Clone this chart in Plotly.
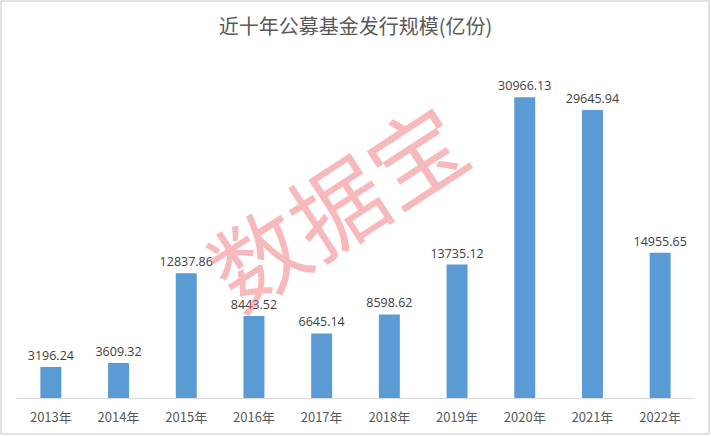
import plotly.graph_objects as go

years = ["2013年", "2014年", "2015年", "2016年", "2017年", "2018年", "2019年", "2020年", "2021年", "2022年"]
values = [3196.24, 3609.32, 12837.86, 8443.52, 6645.14, 8598.62, 13735.12, 30966.13, 29645.94, 14955.65]
labels = [f"{v:.2f}" for v in values]

W, H = 711, 436
ML, MR, MT, MB = 17, 17, 58, 38

fig = go.Figure()
fig.add_trace(go.Bar(
    x=years, y=values, text=labels, textposition="outside", constraintext="none",
    textfont=dict(family="Open Sans, Noto Sans CJK SC", size=12.5, color="#404040"),
    marker=dict(color="#5B9BD5", line=dict(width=0)),
    width=0.31, cliponaxis=False,
))

def px_x(p):
    return (p - ML) / (W - ML - MR)

def px_y(p):
    return 1 - (p - MT) / (H - MT - MB)

fig.update_layout(
    width=W, height=H,
    margin=dict(l=ML, r=MR, t=MT, b=MB, autoexpand=False),
    paper_bgcolor="white", plot_bgcolor="white",
    title=dict(text="近十年公募基金发行规模(亿份)", x=0.5, xanchor="center", y=1 - 27 / H, yanchor="middle",
               font=dict(family="Noto Sans CJK SC", size=20, color="#595959")),
    showlegend=False,
    xaxis=dict(showline=True, linecolor="#D9D9D9", linewidth=1, ticks="", showgrid=False,
               automargin=False, ticklabelstandoff=7,
               tickfont=dict(family="Noto Sans CJK SC", size=13, color="#595959")),
    yaxis=dict(range=[0, 35000], visible=False, showgrid=False, automargin=False),
    annotations=[dict(
        text="数据宝", xref="paper", yref="paper", x=px_x(335), y=px_y(203),
        showarrow=False, textangle=-33,
        font=dict(family="Noto Sans CJK SC", size=94, color="rgba(240,115,120,0.5)"),
    )],
    shapes=[dict(type="rect", xref="paper", yref="paper",
                 x0=px_x(1), x1=px_x(709), y0=px_y(434), y1=px_y(1),
                 line=dict(color="#D9D9D9", width=1.5), fillcolor="rgba(0,0,0,0)", layer="below")],
)

fig.write_html("out.html", config={"displayModeBar": False},
               post_script="document.body.style.margin='0';")
